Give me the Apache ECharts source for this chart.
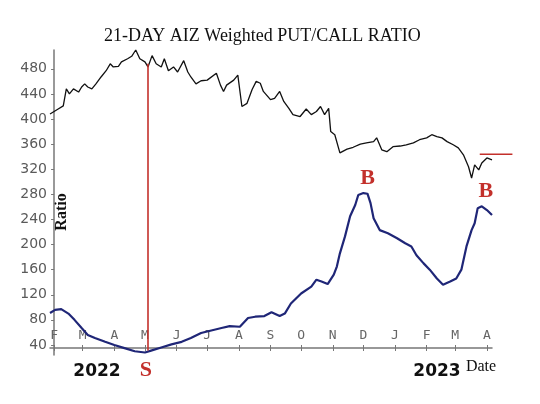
<!DOCTYPE html>
<html><head><meta charset="utf-8">
<script src="https://cdn.jsdelivr.net/npm/echarts@6/dist/echarts.min.js"></script>
<style>html,body{margin:0;padding:0;background:#fff}#c{width:540px;height:404px}</style>
</head><body><div id="c"></div>
<script>
// Days counted from 2022-02-01
var monthDays = [0,28,59,89,120,150,181,212,242,273,303,334,365,393,424];
var monthLetters = ['F','M','A','M','J','J','A','S','O','N','D','J','F','M','A'];
var yTicks = [40,80,120,160,200,240,280,320,360,400,440,480];

var priceDays = [-4,4,9,12,15,19,24,27,30,33,37,41,46,51,55,58,63,66,72,76,80,84,89,92,96,100,105,108,112,117,121,127,131,134,139,144,150,159,163,166,169,176,180,184,189,194,198,202,205,212,216,221,225,230,234,241,247,252,257,261,265,269,271,275,280,287,293,300,306,313,316,321,326,332,339,345,352,358,365,370,375,380,385,391,396,401,406,409,412,416,419,424,429];
var priceVals = [408,416,421,448,440,448,443,451,456,451,448,456,467,477,488,483,484,491,496,500,510,496,491,483,501,488,483,496,477,483,475,493,475,467,456,461,462,473,454,444,454,462,470,420,425,447,460,457,444,431,433,444,428,417,407,404,416,407,412,420,407,417,380,375,346,352,355,360,362,364,370,351,348,356,357,359,362,367,370,375,372,370,364,359,354,343,324,306,327,319,330,338,335];

var ratioDays = [-4,1,7,14,20,27,33,40,50,59,69,79,89,95,105,115,125,134,144,154,164,172,182,190,197,206,213,221,226,232,242,252,257,262,268,274,277,280,285,290,295,298,303,307,310,313,319,327,336,344,350,355,362,368,375,381,388,394,399,404,409,412,415,419,424,429];
var ratioVals = [91,96,97,90,80,67,56,51,45,40,35,30,28,31,36,41,45,51,59,63,67,70,69,83,85,86,92,86,90,106,122,133,144,141,137,152,165,186,213,245,263,279,282,281,266,242,223,218,210,202,197,183,170,160,146,136,141,146,160,197,223,234,258,261,255,247];

var sellDay = 92;
var levelValue = 344, levelFrom = 417, levelTo = 449;
var signals = [
  {text:'B', day:307, value:306},
  {text:'B', day:423, value:285},
  {text:'S', day:90, value:0}
];
var red = '#c3302b';

function pairs(xs, ys){ return xs.map(function(x,i){ return [x, ys[i]]; }); }

var chart = echarts.init(document.getElementById('c'), null, {renderer:'canvas'});
var axisGray = '#777';
chart.setOption({
  backgroundColor:'#fff',
  animation:false,
  title:{text:'21-DAY AIZ Weighted PUT/CALL RATIO', left:99, top:22,
    textStyle:{fontFamily:'Liberation Serif', fontWeight:'normal', fontSize:18, color:'#111'}},
  grid:{left:50, right:48, top:50, bottom:49},
  xAxis:[{type:'value', min:-4, max:429, offset:-7,
    axisLine:{show:true, lineStyle:{color:axisGray, width:1.5}},
    axisTick:{show:true, customValues:monthDays, length:3, lineStyle:{color:axisGray}},
    axisLabel:{show:true, inside:true, margin:6, customValues:monthDays,
      formatter:function(v){ var i = monthDays.indexOf(v); return i>=0 ? monthLetters[i] : ''; },
      fontFamily:'DejaVu Sans Mono', fontSize:13, color:'#666'},
    splitLine:{show:false}},
   {type:'value', min:-4, max:429, offset:-7, position:'bottom',
    axisLine:{show:false},
    axisTick:{show:true, inside:true, customValues:monthDays, length:3, lineStyle:{color:axisGray}},
    axisLabel:{show:false}, splitLine:{show:false}}],
  yAxis:{type:'value', min:24, max:510,
    axisLine:{show:true, lineStyle:{color:axisGray, width:1.5}},
    axisTick:{show:true, customValues:yTicks, length:3, lineStyle:{color:axisGray}},
    axisLabel:{show:true, customValues:yTicks, margin:3, fontFamily:'DejaVu Sans', fontSize:14, color:'#5a5a5a'},
    splitLine:{show:false}},
  series:[
    {type:'line', name:'price', data:pairs(priceDays, priceVals), symbol:'none', clip:false,
      lineStyle:{color:'#111', width:1.3}, z:3,
      markLine:{silent:true, symbol:['none','none'], label:{show:false},
        lineStyle:{color:red, width:1.6, type:'solid'},
        data:[[{coord:[sellDay, 488]}, {coord:[sellDay, 31]}]]}},
    {type:'line', name:'ratio', data:pairs(ratioDays, ratioVals), symbol:'none', clip:false,
      lineStyle:{color:'#1f2677', width:2.2}, z:4}
  ]
});

// Annotations placed through the chart's own scales (some lie outside the axis range)
var g = [
  {type:'text', x:62, y:212, rotation:Math.PI/2, style:{text:'Ratio', textAlign:'center', textVerticalAlign:'middle', fontFamily:'Liberation Serif', fontWeight:'bold', fontSize:16, fill:'#111'}},
  {type:'text', x:97, y:372, style:{text:'2022', textAlign:'center', textVerticalAlign:'middle', fontFamily:'DejaVu Sans', fontWeight:'bold', fontSize:17, fill:'#111'}},
  {type:'text', x:437, y:372, style:{text:'2023', textAlign:'center', textVerticalAlign:'middle', fontFamily:'DejaVu Sans', fontWeight:'bold', fontSize:17, fill:'#111'}},
  {type:'text', x:481, y:367, style:{text:'Date', textAlign:'center', textVerticalAlign:'middle', fontFamily:'Liberation Serif', fontSize:16, fill:'#111'}}
];
var p1 = chart.convertToPixel({xAxisIndex:0, yAxisIndex:0}, [levelFrom, levelValue]);
var p2 = chart.convertToPixel({xAxisIndex:0, yAxisIndex:0}, [levelTo, levelValue]);
g.push({type:'line', z:10, shape:{x1:p1[0], y1:p1[1], x2:p2[0], y2:p2[1]}, style:{stroke:red, lineWidth:1.6}});
signals.forEach(function(s){
  var p = chart.convertToPixel({xAxisIndex:0, yAxisIndex:0}, [s.day, s.value]);
  g.push({type:'text', z:10, x:p[0], y:p[1], style:{text:s.text, textAlign:'center', textVerticalAlign:'middle', fontFamily:'Liberation Serif', fontWeight:'bold', fontSize:22, fill:red}});
});
chart.setOption({graphic:g});
</script></body></html>
